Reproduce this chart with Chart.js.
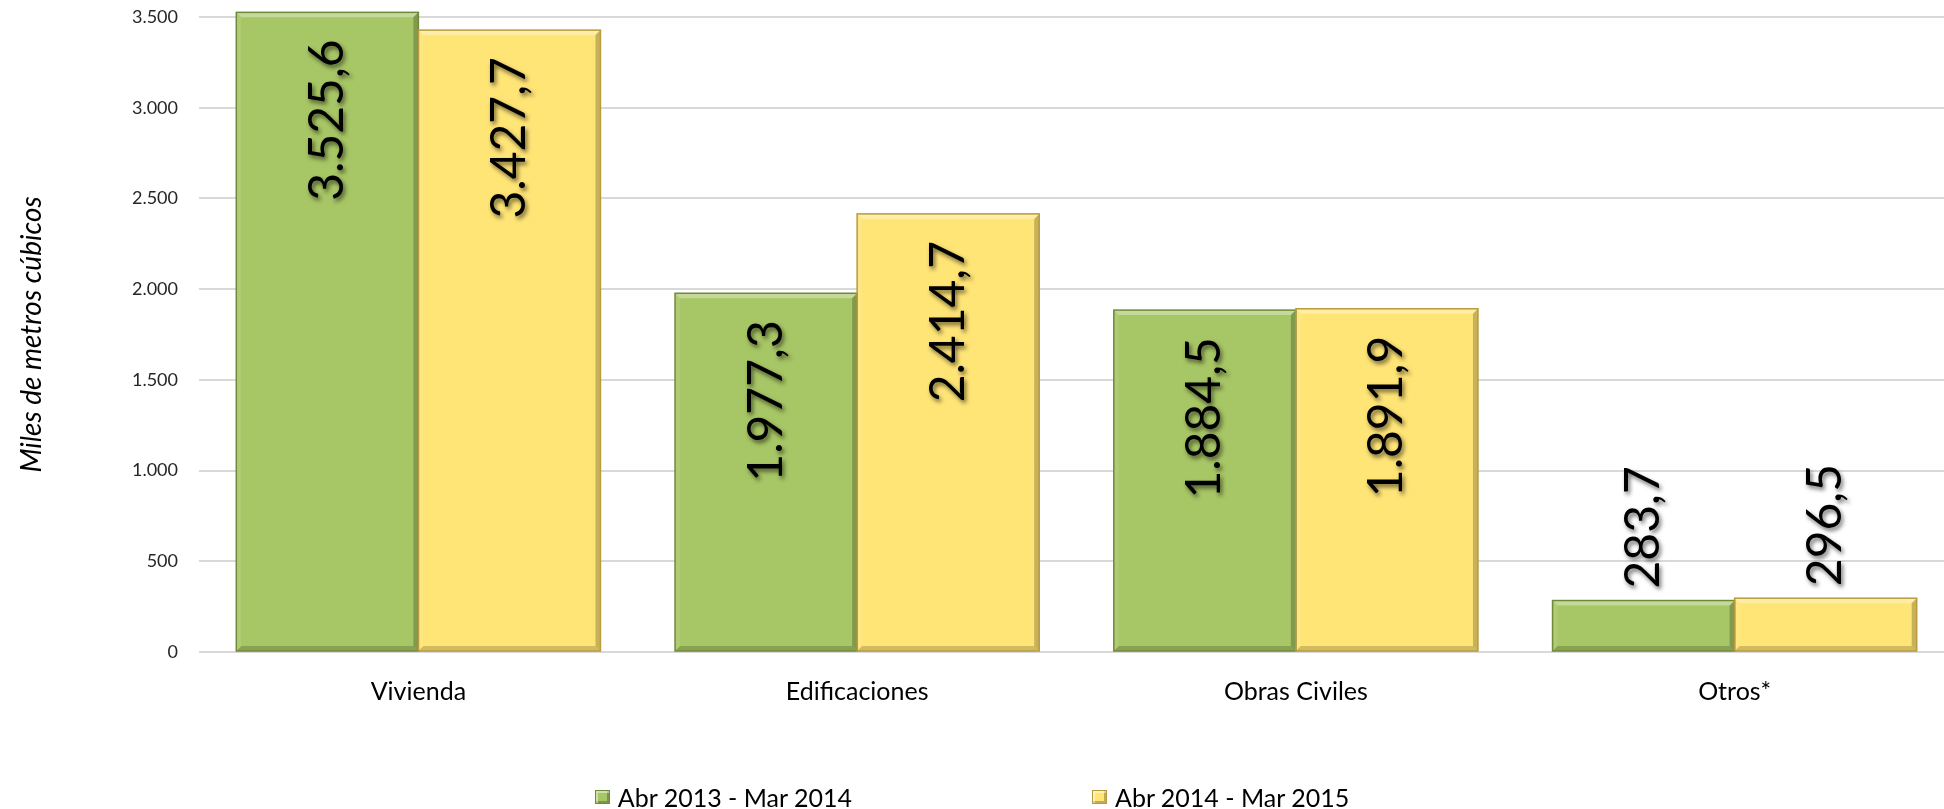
<!DOCTYPE html>
<html><head><meta charset="utf-8">
<script src="https://cdn.jsdelivr.net/npm/chart.js@4/dist/chart.umd.min.js"></script>
<style>
html,body{margin:0;padding:0;background:#fff;overflow:hidden;width:1944px;height:809px;}
#wrap{position:relative;width:1960px;height:809px;}
#legend{position:absolute;left:0;top:782px;width:1944px;display:flex;justify-content:center;font-family:Lato,'Noto Sans',sans-serif;font-size:25px;line-height:30px;color:#000;}
.item{display:flex;align-items:center;}
.item + .item{margin-left:240px;}
.box{width:15px;height:14px;margin-right:8px;box-sizing:border-box;border:1px solid;}
</style></head><body>
<div id="wrap"><canvas id="c" width="1960" height="809"></canvas><div id="legend"></div></div>
<script>
const categories = ['Vivienda', 'Edificaciones', 'Obras Civiles', 'Otros*'];
const seriesNames = ['Abr 2013 - Mar 2014', 'Abr 2014 - Mar 2015'];
const valuesA = [3525.6, 1977.3, 1884.5, 283.7];
const valuesB = [3427.7, 2414.7, 1891.9, 296.5];
const yTicks = [0, 500, 1000, 1500, 2000, 2500, 3000, 3500];
const yAxisTitle = 'Miles de metros cúbicos';

const fills = ['#A7C665', '#FFE476'];
const borders = ['#6F8A3A', '#B89B3C'];

function fmt(v, dec) {
  const s = v.toFixed(dec);
  let parts = s.split('.');
  let i = parts[0].replace(/\B(?=(\d{3})+(?!\d))/g, '.');
  return parts[1] ? i + ',' + parts[1] : i;
}

const bevelAndLabels = {
  id: 'bevelAndLabels',
  afterDatasetsDraw(chart) {
    const ctx = chart.ctx;
    const b = 5;
    chart.data.datasets.forEach((ds, di) => {
      const meta = chart.getDatasetMeta(di);
      meta.data.forEach((bar) => {
        const L = bar.x - bar.width / 2, R = bar.x + bar.width / 2, T = bar.y, B = bar.base;
        ctx.save();
        const poly = (pts, col) => { ctx.beginPath(); ctx.moveTo(pts[0][0], pts[0][1]); for (let k = 1; k < pts.length; k++) ctx.lineTo(pts[k][0], pts[k][1]); ctx.closePath(); ctx.fillStyle = col; ctx.fill(); };
        poly([[L, T], [R, T], [R - b, T + b], [L + b, T + b]], 'rgba(255,255,255,0.35)');
        poly([[L, T], [L + b, T + b], [L + b, B - b], [L, B]], 'rgba(255,255,255,0.10)');
        poly([[R, T], [R, B], [R - b, B - b], [R - b, T + b]], 'rgba(0,0,0,0.22)');
        poly([[L, B], [R, B], [R - b, B - b], [L + b, B - b]], 'rgba(0,0,0,0.18)');
        ctx.strokeStyle = borders[di];
        ctx.lineWidth = 1.5;
        ctx.strokeRect(L, T, R - L, B - T);
        ctx.restore();
      });
    });
    chart.data.datasets.forEach((ds, di) => {
      const meta = chart.getDatasetMeta(di);
      meta.data.forEach((bar, i) => {
        const txt = fmt(ds.data[i], 1);
        ctx.save();
        ctx.font = '48px Lato, "Noto Sans", sans-serif';
        const w = ctx.measureText(txt).width;
        const inside = (bar.base - bar.y) > w + 50;
        ctx.translate(bar.x, inside ? bar.y + 27 : bar.y - 12);
        ctx.rotate(-Math.PI / 2);
        ctx.textAlign = inside ? 'right' : 'left';
        ctx.textBaseline = 'middle';
        ctx.shadowColor = 'rgba(0,0,0,0.55)';
        ctx.shadowBlur = 4;
        ctx.shadowOffsetX = 2;
        ctx.shadowOffsetY = 3;
        ctx.fillStyle = '#000';
        ctx.fillText(txt, 0, 0);
        ctx.restore();
      });
    });
  }
};

const chart = new Chart(document.getElementById('c'), {
  type: 'bar',
  data: {
    labels: categories,
    datasets: [
      { label: seriesNames[0], data: valuesA, backgroundColor: fills[0], borderWidth: 0, clip: false },
      { label: seriesNames[1], data: valuesB, backgroundColor: fills[1], borderWidth: 0, clip: false }
    ]
  },
  options: {
    responsive: false,
    animation: false,
    devicePixelRatio: 1,
    categoryPercentage: 0.83,
    barPercentage: 1.0,
    layout: { padding: { left: 10, right: 6, top: 17, bottom: 103 } },
    plugins: { legend: { display: false }, tooltip: { enabled: false } },
    scales: {
      x: {
        grid: { display: false, drawTicks: false },
        border: { display: false },
        ticks: { padding: 25, color: '#000', font: { family: 'Lato', size: 25 } },
        afterFit(scale) { scale.height = 54; }
      },
      y: {
        min: yTicks[0], max: yTicks[yTicks.length - 1],
        afterBuildTicks(scale) { scale.ticks = yTicks.map(v => ({ value: v })); },
        grid: { color: '#D9D9D9', lineWidth: 2, drawTicks: true, tickLength: 18, tickColor: 'rgba(0,0,0,0)' },
        border: { display: false },
        ticks: { padding: 3, color: '#262626', font: { family: 'Lato', size: 18 }, callback: (v) => fmt(v, 0) },
        title: { display: true, text: yAxisTitle, color: '#000', font: { family: 'Lato', size: 28, style: 'italic' }, padding: { top: 5, bottom: 0 } },
        afterFit(scale) { scale.width = 189; }
      }
    }
  },
  plugins: [bevelAndLabels]
});

const leg = document.getElementById('legend');
chart.data.datasets.forEach((ds, i) => {
  const it = document.createElement('div'); it.className = 'item';
  const bx = document.createElement('span'); bx.className = 'box';
  bx.style.background = fills[i]; bx.style.borderColor = borders[i];
  bx.style.boxShadow = 'inset 2px 2px 0 rgba(255,255,255,0.45), inset -2px -2px 0 rgba(0,0,0,0.25)';
  const tx = document.createElement('span'); tx.textContent = ds.label;
  it.appendChild(bx); it.appendChild(tx); leg.appendChild(it);
});
</script>
</body></html>
